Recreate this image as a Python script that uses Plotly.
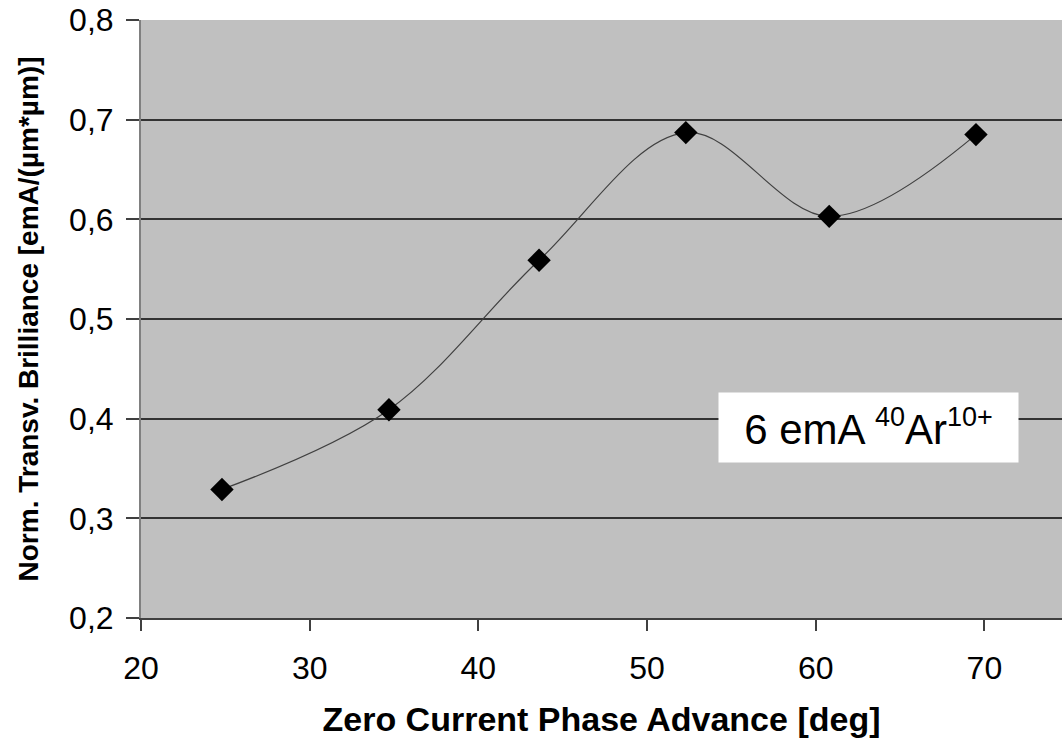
import plotly.graph_objects as go

phase_advance = [24.8, 34.7, 43.6, 52.3, 60.8, 69.5]
brilliance = [0.329, 0.409, 0.559, 0.687, 0.603, 0.685]

x_ticks = [20, 30, 40, 50, 60, 70]
y_ticks = [0.2, 0.3, 0.4, 0.5, 0.6, 0.7, 0.8]
y_tick_labels = ["0,2", "0,3", "0,4", "0,5", "0,6", "0,7", "0,8"]

FONT = "Liberation Sans, Arial, sans-serif"

fig = go.Figure()
fig.add_trace(go.Scatter(
    x=phase_advance, y=brilliance,
    mode="lines+markers",
    line=dict(color="#404040", width=1.2, shape="spline", smoothing=1),
    marker=dict(symbol="diamond", size=18, color="black"),
    showlegend=False,
))

fig.add_annotation(
    x=63.1, y=0.391, xref="x", yref="y",
    text="6 emA <sup><span style='font-size:27px'>40</span></sup>Ar<sup><span style='font-size:27px'>10+</span></sup>",
    showarrow=False,
    font=dict(family=FONT, size=42, color="black"),
    bgcolor="white",
    width=297, height=67,
)

fig.update_layout(
    width=1062, height=738,
    margin=dict(l=141, r=0, t=20, b=120),
    paper_bgcolor="white",
    plot_bgcolor="#C0C0C0",
    font=dict(family=FONT, color="black"),
)

fig.update_xaxes(
    range=[20, 74.6],
    tickvals=x_ticks,
    ticks="outside", ticklen=11, tickcolor="#404040", tickwidth=1.5,
    tickfont=dict(size=32, family=FONT, color="black"),
    ticklabelstandoff=10,
    showgrid=False, zeroline=False,
    showline=True, linecolor="#404040", linewidth=2,
    title=dict(text="<b>Zero Current Phase Advance [deg]</b>",
               font=dict(size=34, family=FONT, color="black"), standoff=26),
)

fig.update_yaxes(
    range=[0.2, 0.8],
    tickvals=y_ticks, ticktext=y_tick_labels,
    ticks="outside", ticklen=13, tickcolor="#404040", tickwidth=1.5,
    tickfont=dict(size=32, family=FONT, color="black"),
    ticklabelstandoff=6,
    showgrid=True, gridcolor="#333333", gridwidth=1.5,
    zeroline=False,
    showline=True, linecolor="#808080", linewidth=2,
    title=dict(text="<b>Norm. Transv. Brilliance [emA/(µm*µm)]</b>",
               font=dict(size=28, family=FONT, color="black"), standoff=22),
)

fig.write_html("out.html")
